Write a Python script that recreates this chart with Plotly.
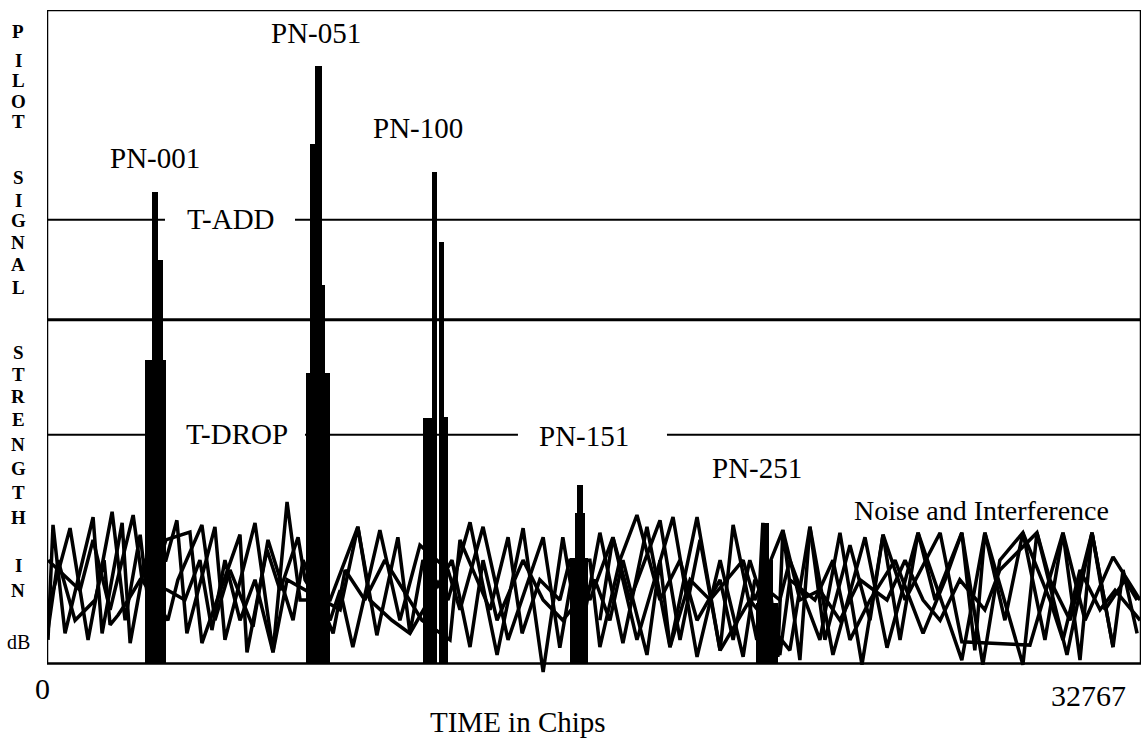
import plotly.graph_objects as go

# ---------------------------------------------------------------------------
# Data: pilot correlation energy seen over one PN period (0 .. 32767 chips)
# ---------------------------------------------------------------------------
CHIP_MAX = 32767

# Threshold levels (dB above the floor of the plot)
T_ADD = 67.9
T_COMP = 52.6
T_DROP = 35.0

# Each pilot is drawn as a stack of energy bins: centre (chips), spread (chips), level (dB)
pn001_center = [3250, 3354, 3235]
pn001_spread = [629, 240, 180]
pn001_level = [46.4, 61.7, 72.2]

pn051_center = [8116, 8101, 8056, 8131]
pn051_spread = [719, 449, 359, 210]
pn051_level = [44.4, 57.9, 79.5, 91.4]

pn100_center = [11441, 11875, 11606, 11816]
pn100_spread = [359, 270, 150, 150]
pn100_level = [37.6, 37.7, 75.2, 64.5]

pn151_center = [15933, 15963, 15963]
pn151_spread = [539, 300, 180]
pn151_level = [16.1, 23.0, 27.3]

pn251_center = [21564, 21549, 21519]
pn251_spread = [659, 389, 210]
pn251_level = [9.3, 15.8, 21.5]

# Noise and interference traces (chip offset, dB)
noise_a_x = [30, 180, 540, 1380, 1650, 2250, 2490, 2940, 3560, 3890, 4190, 5030, 5330, 6230,
             6770, 7190, 7580, 8480, 9310, 9880, 10510, 10870, 11260, 12010, 12670, 13480,
             14260, 14860, 15450, 15960, 16560, 17250, 17970, 18660, 19470, 20160, 20550,
             21260, 21440, 21890, 22040, 22550, 22850, 23540, 24500, 25160, 26090, 27400,
             28090, 29230, 29650, 30550, 31300, 31930, 32230, 32650]
noise_a_y = [3.6, 21.2, 4.6, 22.4, 4.6, 21.5, 3.1, 15.8, 15.8, 21.9, 4.6, 20.9, 3.6, 21.5,
             1.7, 24.7, 9.7, 9.7, 20.9, 4.3, 19.3, 4.6, 15.8, 9.7, 21.6, 1.3,
             20.7, -1.3, 19.3, 3.6, 20.0, 3.1, 20.9, 2.5, 22.4, 2.0, 21.2,
             3.6, 21.5, 1.0, 20.4, 0.5, 20.9, 1.3, 19.3, 2.4, 20.0, 0.5,
             20.0, -0.2, 20.0, 1.3, 20.0, 2.5, 14.3, 4.6]

noise_b_x = [30, 690, 1230, 1950, 2340, 2790, 3020, 3560, 4280, 4640, 5780, 5990, 6590, 6980,
             7520, 7730, 8480, 8780, 9160, 9970, 10570, 11170, 12010, 12370, 13060, 13810,
             14860, 15360, 15810, 16260, 16950, 17670, 18750, 19470, 20160, 20850, 21200,
             21950, 22250, 23150, 23750, 24410, 25040, 25700, 26750, 27400, 29440, 30430,
             31090, 31930, 32740]
noise_b_y = [8.2, 20.7, 3.6, 23.2, 6.6, 19.7, 9.7, 18.9, 20.1, 3.1, 19.7, 1.7, 17.4, 11.2,
             19.3, 12.8, 6.6, 11.2, 2.5, 20.4, 6.6, 18.1, 14.3, 8.2, 20.9, 3.6,
             19.3, 2.4, 15.8, 9.7, 19.3, 3.6, 22.4, 1.0, 15.8, 1.0, 12.8,
             9.7, 15.8, 3.6, 20.0, -0.2, 19.7, 9.7, 20.0, 3.3, 2.8, 20.0,
             6.6, 16.3, 9.7]

noise_c_x = [30, 990, 1380, 1890, 2580, 2850, 3620, 3920, 4640, 5030, 5480, 6170, 6620, 7370,
             7670, 8570, 8930, 9520, 10120, 10870, 11230, 12070, 12370, 13270, 13810, 14230,
             14760, 15360, 15660, 16260, 16560, 17160, 17670, 18360, 18960, 19470, 20160,
             20550, 21050, 21950, 22250, 23000, 23540, 24050, 24650, 25400, 26240, 26900,
             27400, 28030, 28540, 29230, 30040, 30430, 30940, 31540, 31990, 32740]
noise_c_y = [15.8, 11.2, 18.9, 8.2, 22.7, 12.8, 6.6, 12.8, 21.2, 6.6, 14.3, 5.6, 18.9, 6.6,
             15.8, 4.6, 14.3, 9.7, 15.8, 9.7, 6.6, 3.6, 18.9, 8.2, 19.3, 4.6,
             12.8, 9.7, 15.8, 15.8, 2.5, 15.8, 22.7, 9.7, 15.8, 6.6, 12.8,
             3.6, 15.8, 1.3, 12.8, 9.7, 15.8, 3.6, 9.7, 15.8, 4.6, 12.8,
             20.0, -0.2, 15.8, 20.0, 9.7, 3.6, 14.3, 8.2, 11.2, 6.6]

noise_d_x = [30, 330, 840, 1440, 1710, 1890, 2130, 2430, 2790, 3620, 4130, 4580, 4940, 5330,
             5780, 6230, 6770, 7190, 8780, 9310, 9670, 10330, 10870, 12130, 12670, 13060,
             13480, 14260, 14860, 15450, 16410, 16860, 17250, 17970, 18360, 18660, 19260,
             19860, 20850, 21200, 22040, 22550, 23150, 23750, 24350, 25160, 25700, 26240,
             26750, 27340, 28090, 28540, 29650, 30040, 30640, 31300, 31690, 32290, 32650]
noise_d_y = [5.1, 15.8, 6.6, 9.7, 15.8, 5.9, 7.4, 9.7, 12.8, 11.2, 9.7, 15.8, 5.1, 15.8,
             6.6, 12.8, 1.7, 12.8, 8.2, 20.9, 9.7, 6.6, 4.6, 15.8, 2.5, 15.8,
             6.6, 15.8, 9.7, 6.6, 12.8, 6.6, 15.8, 1.3, 15.8, 2.5, 12.8,
             9.7, 15.8, 9.7, 20.4, 9.7, 11.2, 6.6, 12.8, 9.7, 15.8, 9.7,
             6.6, 12.8, 8.2, 14.3, 20.0, 12.8, 6.6, 20.0, 8.2, 12.8, 9.7]

noise_e_x = [16560, 16950, 17460, 18360, 18960, 19560, 20160, 21050, 22250, 22850, 23300,
             24050, 24650, 25040, 25550, 26090, 26600, 27400, 27790, 28090, 28690, 29230,
             29890, 30430, 30940, 31300, 31930]
noise_e_y = [6.6, 19.3, 9.7, 21.9, 3.6, 18.9, 2.0, 9.7, 2.0, 20.9, 3.6,
             18.1, 6.6, 19.7, 3.6, 20.0, 9.7, 20.0, 2.0, 20.0, 6.6, 20.0,
             3.6, 20.0, 0.5, 20.0, 2.5]

# ---------------------------------------------------------------------------
# Figure
# ---------------------------------------------------------------------------
INK = "#000000"
SERIF = "Liberation Serif, Times New Roman, serif"

fig = go.Figure()

for nx, ny in [(noise_a_x, noise_a_y), (noise_b_x, noise_b_y), (noise_c_x, noise_c_y),
               (noise_d_x, noise_d_y), (noise_e_x, noise_e_y)]:
    fig.add_trace(go.Scatter(x=nx, y=ny, mode="lines",
                             line=dict(color=INK, width=3.5),
                             hoverinfo="skip", showlegend=False))

for cx, sp, lv in [(pn001_center, pn001_spread, pn001_level),
                   (pn051_center, pn051_spread, pn051_level),
                   (pn100_center, pn100_spread, pn100_level),
                   (pn151_center, pn151_spread, pn151_level),
                   (pn251_center, pn251_spread, pn251_level)]:
    fig.add_trace(go.Bar(x=cx, y=lv, width=sp, base=0,
                         marker=dict(color=INK, line=dict(width=0)),
                         hoverinfo="skip", showlegend=False))

# Plot frame and threshold lines (with breaks where their labels sit)
shapes = [dict(type="rect", xref="x", yref="y", x0=0, x1=CHIP_MAX, y0=0, y1=100,
               line=dict(color=INK, width=2.5))]


def hline(level, x0, x1, width=2):
    return dict(type="line", xref="x", yref="y", x0=x0, x1=x1, y0=level, y1=level,
                line=dict(color=INK, width=width))


shapes += [hline(T_ADD, 0, 3534), hline(T_ADD, 7428, CHIP_MAX),
           hline(T_COMP, 0, CHIP_MAX, width=3),
           hline(T_DROP, 0, 2935), hline(T_DROP, 7727, 14106), hline(T_DROP, 18569, CHIP_MAX)]

# Plot area geometry in pixels (used only to place text)
L, R, T, B = 47, 1141, 10, 683


def at(px, py):
    return dict(x=(px - L) / (R - L), y=(B - py) / (B - T), xref="paper", yref="paper")


annotations = []


def label(text, px, py, size=29, bold=False, xanchor="center"):
    a = at(px, py)
    a.update(text=("<b>%s</b>" % text) if bold else text, showarrow=False,
             xanchor=xanchor, yanchor="middle",
             font=dict(family=SERIF, size=size, color=INK))
    annotations.append(a)


label("PN-001", 155, 158)
label("PN-051", 316, 33)
label("PN-100", 418, 128)
label("T-ADD", 231, 219)
label("T-DROP", 237, 434)
label("PN-151", 584, 436)
label("PN-251", 757, 468)
label("Noise and Interference", 981, 510, size=28)
label("0", 42, 688, size=30)
label("32767", 1088, 695, size=30)
label("TIME in Chips", 518, 722, size=29)

# Vertical axis title, one letter per line
axis_letters = ["P", "I", "L", "O", "T", "S", "I", "G", "N", "A", "L",
                "S", "T", "R", "E", "N", "G", "T", "H", "I", "N", "dB"]
letter_rows = [32, 61, 81, 102, 122, 177, 200, 220, 242, 264, 287,
               352, 374, 397, 419, 445, 468, 492, 517, 565, 590, 642]
for ch, py in zip(axis_letters, letter_rows):
    label(ch, 18, py, size=19 if ch != "dB" else 20, bold=(ch != "dB"))

fig.update_layout(
    width=1143, height=741,
    margin=dict(l=L, r=1143 - R, t=T, b=741 - B),
    paper_bgcolor="white", plot_bgcolor="white",
    barmode="overlay", bargap=0,
    showlegend=False,
    xaxis=dict(range=[0, CHIP_MAX], visible=False, showgrid=False, zeroline=False, fixedrange=True),
    yaxis=dict(range=[-3, 100], visible=False, showgrid=False, zeroline=False, fixedrange=True),
    shapes=shapes,
    annotations=annotations,
)

fig.write_html("out.html")
